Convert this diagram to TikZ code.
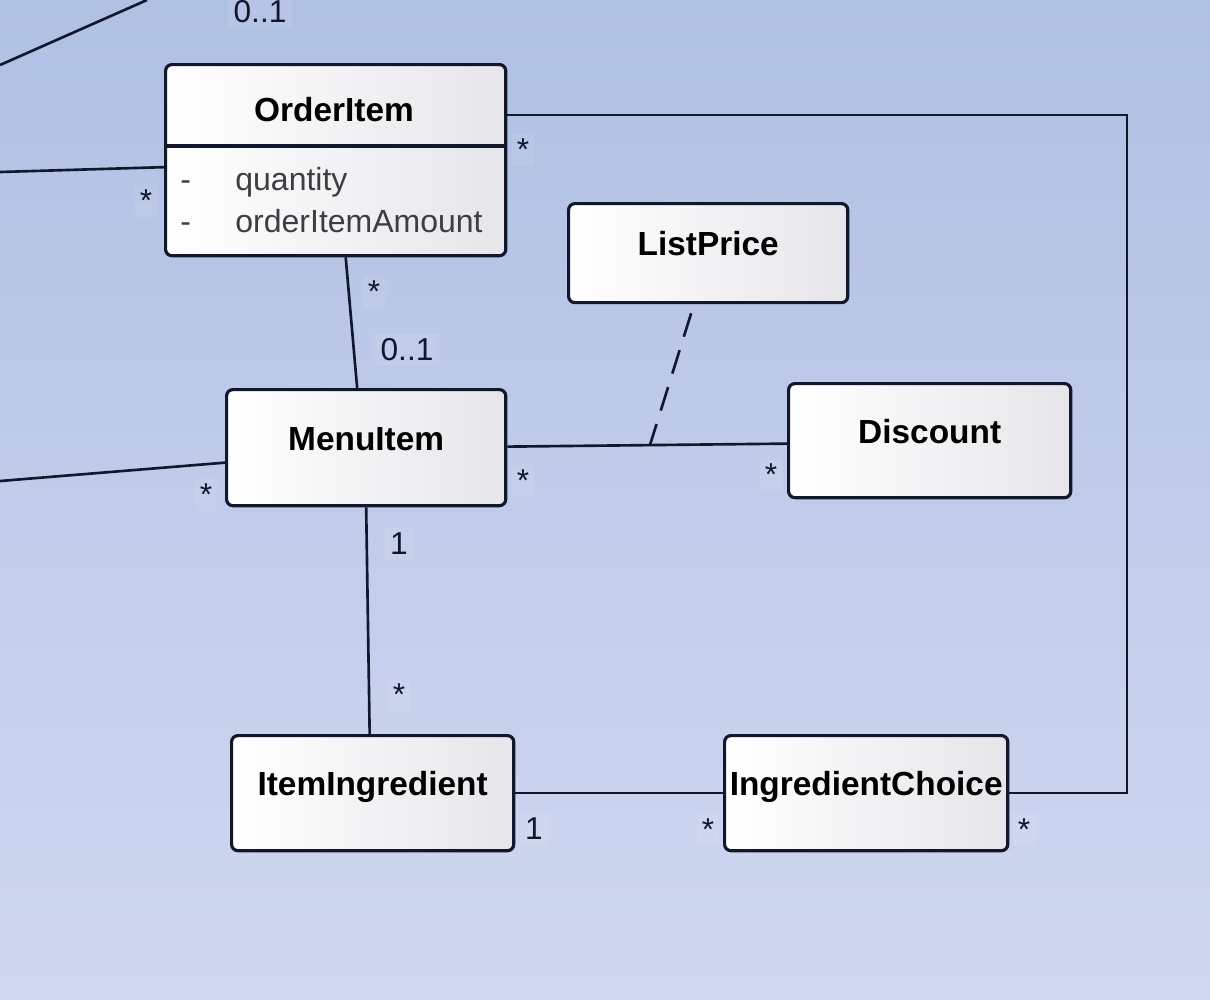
\documentclass[tikz,border=0pt]{standalone}
\usepackage{fontspec}
\setmainfont{Liberation Sans}
\usetikzlibrary{calc,
positioning}
\definecolor{bgtop}{RGB}{176,192,227}
\definecolor{bgbot}{RGB}{208,216,240}
\definecolor{linecol}{RGB}{18,24,44}
\definecolor{boxgray}{RGB}{230,230,234}
\definecolor{attrcol}{RGB}{62,62,66}

\begin{document}
\begin{tikzpicture} [x = 0.01cm, y = -0.01cm,
  thick,
  assoc/.style={-, draw = linecol, line width = 0.75pt},
  class node/.style={rectangle, rounded corners = 1.8pt, draw = linecol,
      line width = 0.9pt, left color = white, right color = boxgray,
      anchor = north west, align = center, inner xsep = 1pt,
      text height = 0.25cm, text depth = 0.2cm,
      font = \fontsize{9.5pt}{11pt}\selectfont\bfseries},
  attr/.style={anchor = base west, text = attrcol, inner sep = 0pt,
      font = \fontsize{9.1pt}{11pt}\selectfont},
  mult/.style={fill = white, fill opacity = .08, text opacity = 1, inner sep = 1.5pt,
      text = linecol, font = \fontsize{9pt}{11pt}\selectfont}]

  % background
  \useasboundingbox (0,0) rectangle (1210,999);
  \shade [top color = bgtop, bottom color = bgbot] (0,0) rectangle (1210,999);

  % classes
  \node [class node,
    minimum width = 3.40cm,
    minimum height = 1.91cm
  ] (order) at (164,63) {};
  \node [font = \fontsize{9.5pt}{11pt}\selectfont\bfseries] (ordername) at (334,110) {OrderItem};
  \coordinate (divl) at (164,146);
  \draw [draw = linecol, line width = 0.9pt] (divl) -- (divl -| order.east);

  \node [attr] (qtydash) at (179,190) {-};
  \node [attr] (qty) at (234,190) {quantity};
  \node [attr] (amtdash) at (179,232) {-};
  \node [attr] (amt) at (234,232) {orderItemAmount};

  \node [class node,
    minimum width = 2.79cm,
    minimum height = 0.99cm
  ] (listp) at (567,202) {ListPrice};

  \node [class node,
    minimum width = 2.79cm,
    minimum height = 1.16cm
  ] (menu) at (225,388) {MenuItem};

  \node [class node,
    minimum width = 2.82cm,
    minimum height = 1.14cm
  ] (disc) at (787,382) {Discount};

  \node [class node,
    minimum width = 2.82cm,
    minimum height = 1.15cm
  ] (ingr) at (230,734) {ItemIngredient};

  \node [class node,
    minimum width = 2.83cm,
    minimum height = 1.15cm
  ] (choice) at (723,734) {IngredientChoice};

  % associations
  \coordinate (offtop) at (0,65);
  \coordinate (offtopend) at (147,0);
  \coordinate (offorder) at (0,172);
  \coordinate (offmenu) at (0,481);
  \coordinate (rail) at (1127,115);

  \draw [assoc] (offtop) -- (offtopend);
  \draw [assoc] (offorder) -- ($(order.west) + (0, 7)$);
  \draw [assoc] (offmenu) -- ($(menu.west) + (0, 15)$);

  \draw [assoc] ($(order.south) + (10, 0)$) -- ($(menu.north) + (-9, 0)$);
  \draw [assoc] (menu.south) -- ($(ingr.north) + (-3, 0)$);
  \draw [assoc] ($(menu.east) + (0, -1)$) -- ($(disc.west) + (0, 3)$)
  coordinate [pos = .51] (assocmid);
  \draw [assoc, dashed, dash pattern = on 7pt off 4pt] ($(listp.south) + (-17, 9)$) -- (assocmid);
  \draw [assoc] (ingr.east) -- (choice.west);
  \draw [assoc] (choice.east) -| (rail) -- ($(order.north east) + (0, 52)$);

  % multiplicities
  \node [mult] (m1) at (260,12) {0..1};
  \node [mult] (m2) at (146,201) {*};
  \node [mult] (m3) at (523,150) {*};
  \node [mult] (m4) at (374,292) {*};
  \node [mult] (m5) at (407,350) {0..1};
  \node [mult] (m6) at (206,495) {*};
  \node [mult] (m7) at (523,481) {*};
  \node [mult] (m8) at (771,475) {*};
  \node [mult] (m9) at (399,544) {1};
  \node [mult] (m10) at (399,695) {*};
  \node [mult] (m11) at (534,829) {1};
  \node [mult] (m12) at (708,830) {*};
  \node [mult] (m13) at (1024,830) {*};

\end{tikzpicture}
\end{document}
